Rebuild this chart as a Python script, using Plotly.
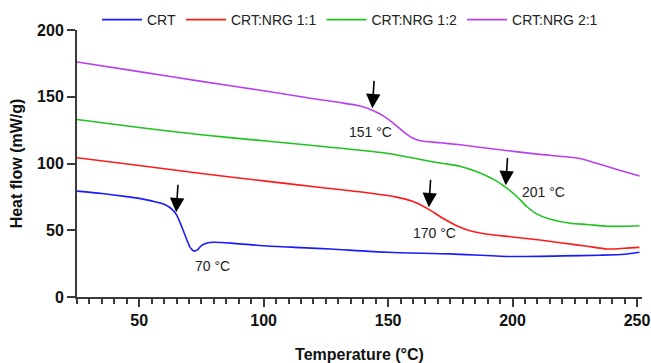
import numpy as np
import plotly.graph_objects as go

# ---- data ----
crt_t = [25, 35, 45, 50, 55, 60, 63, 65, 67, 69, 70.5, 72, 73.5, 75, 77, 80, 88, 100, 115, 127, 150, 175, 200, 220, 235, 245, 251]
crt_v = [79.3, 77.5, 75.2, 73.9, 72, 69.5, 66, 61.5, 53, 43.5, 37, 34.4, 35.5, 38.5, 40.3, 41, 40.2, 38.4, 37, 35.9, 33.5, 32.3, 30.3, 30.8, 31.3, 32, 33.5]

n11_t = [25, 50, 75, 100, 123, 140, 153, 160, 166, 172, 178, 184, 190, 200, 211, 220, 230, 238, 245, 251]
n11_v = [104.3, 98.5, 92.5, 87, 82, 78.5, 75, 71.5, 66, 59, 53, 49, 47, 45, 42.7, 40.5, 38, 36, 36.5, 37.2]

n12_t = [25, 50, 75, 100, 125, 150, 163, 172, 178.8, 185.7, 192.4, 197.8, 201.8, 205.8, 209.8, 215.2, 223.2, 230, 238, 245, 251]
n12_v = [133, 127, 121.5, 117, 112.5, 107.5, 103, 100, 98, 93.9, 88.1, 81.4, 75.1, 67.6, 62.1, 58.2, 55.2, 54.3, 53, 53, 53.4]

n21_t = [25, 50, 75, 100, 120, 130.7, 138.8, 144.1, 148.2, 152.2, 156.2, 159.6, 162.9, 171, 179, 194, 210, 227, 234, 242, 251]
n21_v = [176, 168.8, 161.5, 154.5, 148.5, 145.7, 143, 139.5, 135.5, 130, 123.7, 119.3, 117, 115.5, 114, 110.5, 107, 103.8, 100, 95.5, 90.6]

series_names = ["CRT", "CRT:NRG 1:1", "CRT:NRG 1:2", "CRT:NRG 2:1"]
series_t = [crt_t, n11_t, n12_t, n21_t]
series_v = [crt_v, n11_v, n12_v, n21_v]
colors = ["#1a1aff", "#ff1a1a", "#1ec41e", "#b940f0"]

# transition labels and arrow positions (temperature on curve)
label_texts = ["70 °C", "170 °C", "201 °C", "151 °C"]
arrow_temps = [64.8, 166.3, 197.2, 143.6]
label_pos = [(79.3, 23.2), (168.5, 48.1), (212.4, 78.8), (142.8, 123.7)]

x_ticks = [50, 100, 150, 200, 250]
y_ticks = [0, 50, 100, 150, 200]

FONT = "Liberation Sans, Arial, sans-serif"
AX = "#3a3a3a"

fig = go.Figure()
for name, t, v, c in zip(series_names, series_t, series_v, colors):
    fig.add_trace(go.Scatter(x=t, y=v, mode="lines", name=name,
                             line=dict(color=c, width=1.6, shape="spline", smoothing=0.7)))

for i in range(4):
    tip_x = arrow_temps[i]
    tip_y = float(np.interp(tip_x, series_t[i], series_v[i]))
    fig.add_annotation(x=tip_x, y=tip_y, xref="x", yref="y", text="", showarrow=True,
                       arrowhead=2, arrowsize=1.8, arrowwidth=1.6, arrowcolor="black",
                       standoff=2, ax=2, ay=-31)
    lx, ly = label_pos[i]
    fig.add_annotation(x=lx, y=ly, xref="x", yref="y", text=label_texts[i], showarrow=False,
                       font=dict(family=FONT, size=14, color="#222"))

plot_h = 363 - 30 - 66
fig.update_layout(
    width=651, height=363,
    margin=dict(l=77, r=9, t=30, b=66, autoexpand=False),
    paper_bgcolor="white", plot_bgcolor="white",
    font=dict(family=FONT, color="#111"),
    showlegend=True,
    legend=dict(orientation="h", x=(97 - 77) / (651 - 77 - 9), y=1 + (30 - 20) / plot_h,
                xref="paper", yref="paper",
                xanchor="left", yanchor="middle",
                font=dict(family=FONT, size=14, color="#222"),
                itemwidth=40, bgcolor="rgba(0,0,0,0)"),
)

fig.update_xaxes(range=[25, 252], tickvals=x_ticks, ticks="outside", ticklen=8, tickwidth=2,
                 tickcolor=AX, showline=True, linecolor=AX, linewidth=2, showgrid=False,
                 zeroline=False, automargin=False,
                 minor=dict(dtick=5, tick0=0, ticks="outside", ticklen=5, tickwidth=1.5, tickcolor=AX),
                 tickfont=dict(family=FONT, size=16, color="#111", weight="bold"),
                 title=dict(text="Temperature (°C)", standoff=22,
                            font=dict(family=FONT, size=16, color="#111", weight="bold")))
fig.update_yaxes(range=[0, 200], tickvals=y_ticks, ticks="outside", ticklen=8, tickwidth=2,
                 tickcolor=AX, showline=True, linecolor=AX, linewidth=2, showgrid=False,
                 zeroline=False, automargin=False,
                 tickfont=dict(family=FONT, size=16, color="#111", weight="bold"),
                 title=dict(text="Heat flow (mW/g)", standoff=10,
                            font=dict(family=FONT, size=16, color="#111", weight="bold")))

fig.write_html("out.html")
